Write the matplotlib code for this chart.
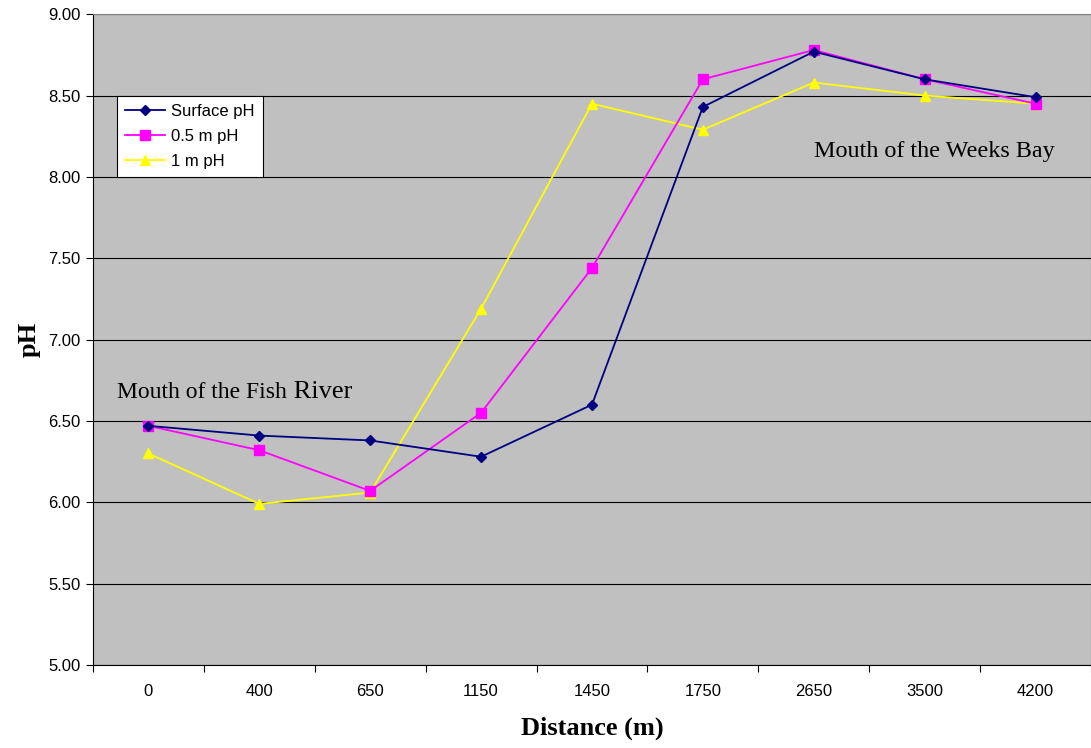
import numpy as np
import matplotlib.pyplot as plt

# pH profile along the transect, Fish River -> Weeks Bay
distance = ['0', '400', '650', '1150', '1450', '1750', '2650', '3500', '4200']
surface_ph = [6.47, 6.41, 6.38, 6.28, 6.60, 8.43, 8.77, 8.60, 8.49]
half_m_ph = [6.47, 6.32, 6.07, 6.55, 7.44, 8.60, 8.78, 8.60, 8.45]
one_m_ph = [6.30, 5.99, 6.06, 7.19, 8.45, 8.29, 8.58, 8.50, 8.45]

plt.rcParams['font.family'] = ['Liberation Sans', 'DejaVu Sans']

fig = plt.figure(figsize=(10.91, 7.48), dpi=100)
ax = fig.add_axes([0.0852, 0.111, 0.9148, 0.870])
ax.set_facecolor('#c0c0c0')

x = np.arange(len(distance))
ax.plot(x, surface_ph, color='#000080', marker='D', markersize=5.5, lw=1.3,
        label='Surface pH', zorder=5)
ax.plot(x, half_m_ph, color='#ff00ff', marker='s', markersize=6.5, lw=1.3,
        label='0.5 m pH', zorder=4)
ax.plot(x, one_m_ph, color='#ffff00', marker='^', markersize=7.5, lw=1.3,
        label='1 m pH', zorder=3)

ax.set_xlim(-0.5, len(distance) - 0.5)
ax.set_ylim(5.0, 9.0)
ax.set_yticks(np.arange(5.0, 9.01, 0.5))
ax.set_yticklabels(['%.2f' % v for v in np.arange(5.0, 9.01, 0.5)])
ax.yaxis.grid(True, color='black', lw=0.8)
ax.set_axisbelow(True)

# category labels centred, tick marks between categories
ax.set_xticks(x)
ax.set_xticklabels(distance)
ax.set_xticks(np.arange(-0.5, len(distance), 1.0), minor=True)
ax.tick_params(axis='x', which='major', length=0, pad=14, labelsize=12)
ax.tick_params(axis='x', which='minor', length=5, width=0.8)
ax.tick_params(axis='y', length=5, width=0.8, labelsize=12, pad=4)

for side in ['top', 'right']:
    ax.spines[side].set_color('#808080')
ax.spines['left'].set_color('black')
ax.spines['bottom'].set_color('black')

ax.set_xlabel('Distance (m)', family='Liberation Serif', fontsize=19,
              fontweight='bold', labelpad=12)
ax.set_ylabel('pH', family='Liberation Serif', fontsize=19,
              fontweight='bold', labelpad=5)

t1 = ax.text(-0.28, 6.64, 'Mouth of the Fish', family='Liberation Serif',
             fontsize=17, va='baseline')
ax.annotate(' River', xy=(1, 0), xycoords=t1, family='Liberation Serif',
            fontsize=19, va='bottom', ha='left')
ax.text(6.0, 8.12, 'Mouth of the Weeks Bay', family='Liberation Serif',
        fontsize=17.4, va='baseline')

leg = ax.legend(loc='upper left', bbox_to_anchor=(0.024, 0.8745),
                fontsize=12, frameon=True, fancybox=False, framealpha=1,
                edgecolor='black', borderpad=0.5, labelspacing=0.58,
                handlelength=2.4, handletextpad=0.35, borderaxespad=0)
leg.get_frame().set_linewidth(0.8)

fig.savefig('out.png', dpi=100)
